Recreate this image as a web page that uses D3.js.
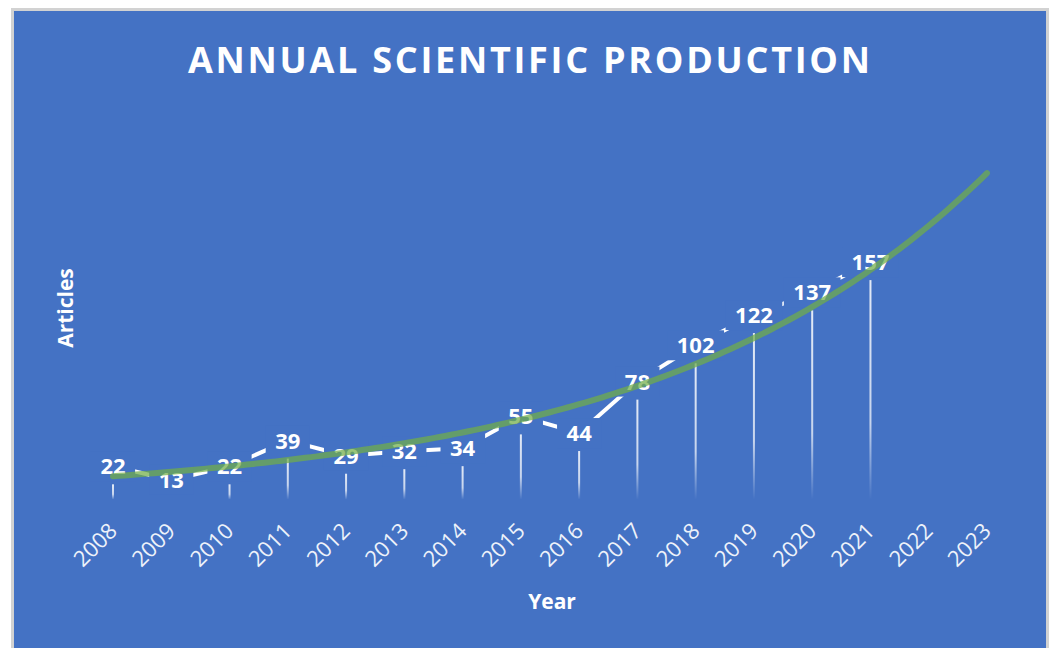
<!DOCTYPE html>
<html>
<head>
<meta charset="utf-8">
<script src="https://cdn.jsdelivr.net/npm/d3@7"></script>
<style>
  html, body { margin: 0; padding: 0; background: #ffffff; }
  svg { display: block; }
  text { font-family: "Open Sans", "DejaVu Sans", sans-serif; }
</style>
</head>
<body>
<svg id="chart" width="1053" height="648"></svg>
<script>
// Annual article counts
const years = ["2008","2009","2010","2011","2012","2013","2014","2015",
               "2016","2017","2018","2019","2020","2021","2022","2023"];
const articles = [22, 13, 22, 39, 29, 32, 34, 55, 44, 78, 102, 122, 137, 157];
const yDomain = [0, 250];
const chartTitle = "ANNUAL SCIENTIFIC PRODUCTION";
const xTitle = "Year";
const yTitle = "Articles";

const bg = "#4472C4";
const svg = d3.select("#chart");

// frame
svg.append("rect")
  .attr("x", 12.5).attr("y", 9.5)
  .attr("width", 1035).attr("height", 660)
  .attr("fill", bg)
  .attr("stroke", "#d2d2d2").attr("stroke-width", 3);

const x = d3.scalePoint().domain(years).range([113, 987]).padding(0);
const y = d3.scaleLinear().domain(yDomain).range([499.6, 121.4]);

const data = articles.map((v, i) => ({ year: years[i], value: v, t: i }));

// fading drop lines
const defs = svg.append("defs");
const grad = defs.append("linearGradient")
  .attr("id", "dropFade").attr("x1", 0).attr("y1", 0).attr("x2", 0).attr("y2", 1);
grad.append("stop").attr("offset", "0%").attr("stop-color", "#fff").attr("stop-opacity", 0.85);
grad.append("stop").attr("offset", "65%").attr("stop-color", "#fff").attr("stop-opacity", 0.7);
grad.append("stop").attr("offset", "100%").attr("stop-color", "#fff").attr("stop-opacity", 0);

svg.append("g").selectAll("rect")
  .data(data.filter(d => y(0) - (y(d.value) + 18) > 6))
  .join("rect")
  .attr("x", d => x(d.year) - 1)
  .attr("width", 2)
  .attr("y", d => y(d.value) + 18)
  .attr("height", d => y(0) - (y(d.value) + 18))
  .attr("fill", "url(#dropFade)");

// series line
const line = d3.line().x(d => x(d.year)).y(d => y(d.value));
svg.append("path")
  .datum(data)
  .attr("d", line)
  .attr("fill", "none")
  .attr("stroke", "#ffffff")
  .attr("stroke-width", 4)
  .attr("stroke-linejoin", "round");

// value labels with background boxes
const labels = svg.append("g").selectAll("g")
  .data(data).join("g")
  .attr("transform", d => `translate(${x(d.year)},${y(d.value)})`);
labels.append("text")
  .attr("text-anchor", "middle")
  .attr("dy", "0.36em")
  .attr("fill", "#ffffff")
  .attr("font-size", 22)
  .attr("font-weight", 700)
  .text(d => d.value);
labels.each(function() {
  const g = d3.select(this);
  const bb = g.select("text").node().getBBox();
  g.insert("rect", "text")
    .attr("x", bb.x - 9.5).attr("width", bb.width + 19)
    .attr("y", -15).attr("height", 30)
    .attr("fill", bg);
});

// exponential trendline (least squares on ln values), forecast to last year
const mt = d3.mean(data, d => d.t);
const ml = d3.mean(data, d => Math.log(d.value));
const b = d3.sum(data, d => (d.t - mt) * (Math.log(d.value) - ml)) /
          d3.sum(data, d => (d.t - mt) ** 2);
const a = Math.exp(ml - b * mt);
const step = x(years[1]) - x(years[0]);
const tMax = years.length - 1;
const trendPts = d3.range(0, tMax + 0.001, 0.1).map(t => [x(years[0]) + t * step, y(a * Math.exp(b * t))]);
svg.append("path")
  .attr("d", d3.line()(trendPts))
  .attr("fill", "none")
  .attr("stroke", "#70AD47")
  .attr("stroke-opacity", 0.72)
  .attr("stroke-width", 6)
  .attr("stroke-linecap", "round");

// x tick labels
svg.append("g").selectAll("text")
  .data(years).join("text")
  .attr("transform", d => `translate(${x(d)},527) rotate(-45)`)
  .attr("text-anchor", "end")
  .attr("dy", "0.35em")
  .attr("fill", "#eef2fa")
  .attr("font-size", 22)
  .text(d => d);

// titles
svg.append("text")
  .attr("x", 529).attr("y", 73)
  .attr("text-anchor", "middle")
  .attr("fill", "#ffffff")
  .attr("font-size", 36)
  .attr("font-weight", 700)
  .attr("textLength", 682)
  .attr("lengthAdjust", "spacing")
  .text(chartTitle);

svg.append("text")
  .attr("x", 552).attr("y", 609)
  .attr("text-anchor", "middle")
  .attr("fill", "#ffffff")
  .attr("font-size", 21)
  .attr("font-weight", 700)
  .text(xTitle);

svg.append("text")
  .attr("transform", "translate(73,308) rotate(-90)")
  .attr("text-anchor", "middle")
  .attr("fill", "#ffffff")
  .attr("font-size", 21)
  .attr("font-weight", 700)
  .text(yTitle);
</script>
</body>
</html>
